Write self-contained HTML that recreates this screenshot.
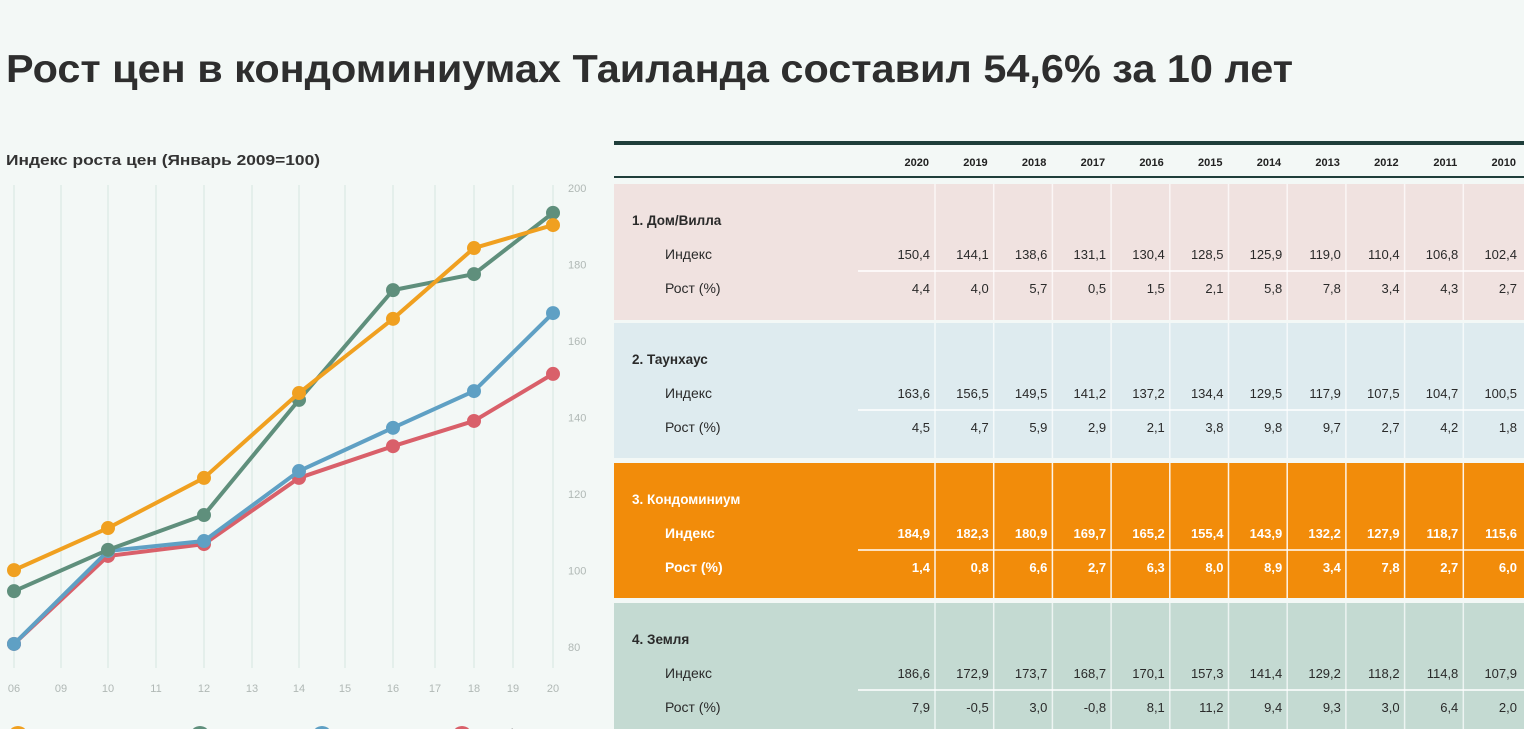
<!DOCTYPE html>
<html><head><meta charset="utf-8">
<style>
html,body{margin:0;padding:0;background:#f3f8f6;}
svg{display:block;font-family:"Liberation Sans","DejaVu Sans",sans-serif;}
</style></head>
<body>
<svg id="root" width="1524" height="729" viewBox="0 0 1524 729" xmlns="http://www.w3.org/2000/svg">
<rect width="1524" height="729" fill="#f3f8f6"/>
<text x="6" y="82" font-size="39" font-weight="bold" fill="#2e2e2e" textLength="1287" lengthAdjust="spacingAndGlyphs">Рост цен в кондоминиумах Таиланда составил 54,6% за 10 лет</text>
<text x="6" y="165" font-size="15" font-weight="bold" fill="#333" textLength="314" lengthAdjust="spacingAndGlyphs">Индекс роста цен (Январь 2009=100)</text>
<g id="chart"></g>
<g id="table"></g>
</svg>
<script>
const NS="http://www.w3.org/2000/svg";
// ---- chart data ----
const xLabels=["06","09","10","11","12","13","14","15","16","17","18","19","20"];
const pointCats=["06","10","12","14","16","18","20"];
const yTicks=[80,100,120,140,160,180,200];
const condoVals=[100.1,111.1,124.2,146.4,165.8,184.3,190.3];
const landVals=[94.6,105.4,114.5,144.6,173.3,177.5,193.5];
const townVals=[80.8,105.1,107.7,126.0,137.3,146.9,167.3];
const houseVals=[80.8,103.8,106.9,124.2,132.5,139.1,151.4];
const seriesNames=["Кондоминиум","Земля","Таунхаус","Дом/Вилла"];
const seriesColors=["#f0a020","#5f8f7c","#5fa0c4","#d9606a"];
// ---- table data ----
const years=["2020","2019","2018","2017","2016","2015","2014","2013","2012","2011","2010"];
const sectionTitles=["1. Дом/Вилла","2. Таунхаус","3. Кондоминиум","4. Земля"];
const idxHouse=["150,4","144,1","138,6","131,1","130,4","128,5","125,9","119,0","110,4","106,8","102,4"];
const grHouse=["4,4","4,0","5,7","0,5","1,5","2,1","5,8","7,8","3,4","4,3","2,7"];
const idxTown=["163,6","156,5","149,5","141,2","137,2","134,4","129,5","117,9","107,5","104,7","100,5"];
const grTown=["4,5","4,7","5,9","2,9","2,1","3,8","9,8","9,7","2,7","4,2","1,8"];
const idxCondo=["184,9","182,3","180,9","169,7","165,2","155,4","143,9","132,2","127,9","118,7","115,6"];
const grCondo=["1,4","0,8","6,6","2,7","6,3","8,0","8,9","3,4","7,8","2,7","6,0"];
const idxLand=["186,6","172,9","173,7","168,7","170,1","157,3","141,4","129,2","118,2","114,8","107,9"];
const grLand=["7,9","-0,5","3,0","-0,8","8,1","11,2","9,4","9,3","3,0","6,4","2,0"];

function el(tag,attrs,parent,txt){const e=document.createElementNS(NS,tag);for(const k in attrs)e.setAttribute(k,attrs[k]);if(txt!==undefined)e.textContent=txt;parent.appendChild(e);return e;}

// axes
const xPos=[14,61,108,156,204,252,299,345,393,435,474,513,553];
function xOf(cat){return xPos[xLabels.indexOf(cat)];}
function yOf(v){return 188+(200-v)*(647-188)/120;}
const chart=document.getElementById("chart");
xLabels.forEach((l,i)=>{
  const g=el("line",{x1:xOf(l),x2:xOf(l),y1:185,y2:668,stroke:"#d6e6e0","stroke-width":1},chart);
  
  
  const t=el("text",{x:xOf(l),y:692,"font-size":11,fill:"#b0b8b5","text-anchor":"middle"},chart,l);
  
  
});
yTicks.forEach(v=>{
  const t=el("text",{x:568,y:yOf(v)+4,"font-size":11,fill:"#b0b8b5","text-anchor":"start"},chart,String(v));
  
  
});
const allSeries=[houseVals,townVals,landVals,condoVals];
const order=[3,2,1,0];
order.forEach((ci,k)=>{
  const vals=allSeries[k];
  const col=seriesColors[ci];
  const pts=vals.map((v,i)=>xOf(pointCats[i])+","+yOf(v)).join(" ");
  const pl=el("polyline",{points:pts,fill:"none",stroke:col,"stroke-width":4,"stroke-linejoin":"round"},chart);
  
  
  vals.forEach((v,i)=>{
    const c=el("circle",{cx:xOf(pointCats[i]),cy:yOf(v),r:7,fill:col},chart);
    
    
  });
});
// legend (cut off at bottom)
const legX=[18,200,322,462];
seriesNames.forEach((n,i)=>{
  const c=el("circle",{cx:legX[i],cy:736,r:10,fill:seriesColors[i]},chart);
  
  
  const t=el("text",{x:legX[i]+22,y:738,"font-size":13,fill:"#666"},chart,n);
  
  
});

// table
const tb=document.getElementById("table");
const colW=58.7, col0=935; // right edge of first column
const l1=el("rect",{x:614,y:141,width:910,height:4,fill:"#1f3e3a"},tb);


years.forEach((y,i)=>{
  const t=el("text",{x:col0+i*colW-6,y:166,"font-size":11,"font-weight":"bold",fill:"#222","text-anchor":"end"},tb,y);
  
  
});
const l2=el("rect",{x:614,y:176,width:910,height:2,fill:"#1f3e3a"},tb);


const secTops=[184,323,463,603];
const secH=[136,135,135,126];
const secFill=["#f0e2e0","#deebef","#f28c0a","#c4dad2"];
const secText=["#2a2a2a","#2a2a2a","#ffffff","#2a2a2a"];
const secIdx=[idxHouse,idxTown,idxCondo,idxLand];
const secGr=[grHouse,grTown,grCondo,grLand];
secTops.forEach((top,s)=>{
  const r=el("rect",{x:614,y:top,width:910,height:secH[s],fill:secFill[s]},tb);
  
  
  for(let i=0;i<10;i++){
    const vl=el("line",{x1:col0+i*colW,x2:col0+i*colW,y1:top,y2:top+secH[s],stroke:"#ffffff","stroke-width":1.5,"stroke-opacity":s==2?0.9:0.7},tb);
    
    
  }
  const hl=el("line",{x1:858,x2:1524,y1:top+87,y2:top+87,stroke:"#ffffff","stroke-width":1.5},tb);
  
  
  const bold=s==2?"bold":"normal";
  const tt=el("text",{x:632,y:top+41,"font-size":13.5,"font-weight":"bold",fill:secText[s]},tb,sectionTitles[s]);
  
  
  const a=el("text",{x:665,y:top+75,"font-size":14,"font-weight":bold,fill:secText[s]},tb,"Индекс");
  
  
  const b=el("text",{x:665,y:top+109,"font-size":14,"font-weight":bold,fill:secText[s]},tb,"Рост (%)");
  
  
  secIdx[s].forEach((v,i)=>{
    const t=el("text",{x:col0+i*colW-5,y:top+75,"font-size":13,"font-weight":bold,fill:secText[s],"text-anchor":"end"},tb,v);
    
    
  });
  secGr[s].forEach((v,i)=>{
    const t=el("text",{x:col0+i*colW-5,y:top+109,"font-size":13,"font-weight":bold,fill:secText[s],"text-anchor":"end"},tb,v);
    
    
  });
});
</script>
</body></html>
